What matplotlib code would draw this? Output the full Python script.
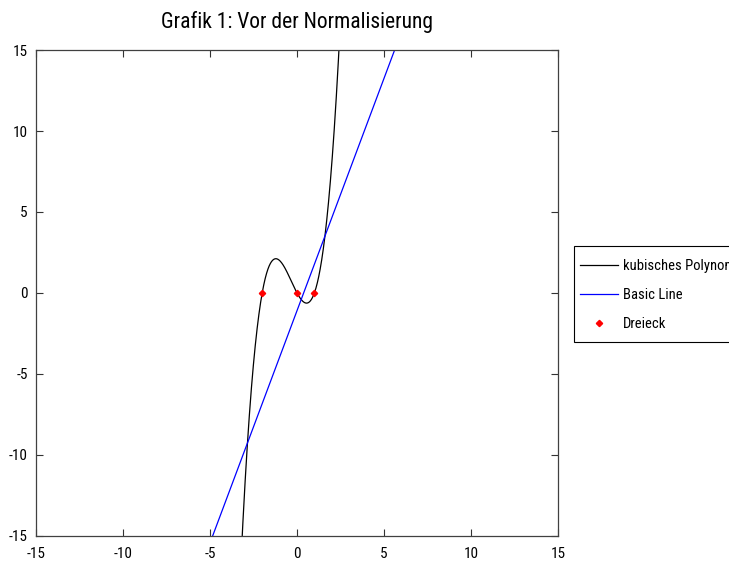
import numpy as np
import matplotlib
matplotlib.use("Agg")
import matplotlib.pyplot as plt
from matplotlib.patches import Rectangle

plt.rcParams['font.family'] = ['Liberation Sans Narrow', 'Roboto Condensed', 'DejaVu Sans']
plt.rcParams['axes.unicode_minus'] = False

# Data
cubic_coeffs = [1, 1, -2, 0]          # x^3 + x^2 - 2x, roots at -2, 0, 1
line_coeffs = [2.87, -1.1]            # basic line
root_x = [-2, 0, 1]
root_y = [0, 0, 0]
ticks = [-15, -10, -5, 0, 5, 10, 15]

W, H = 729, 566
fig = plt.figure(figsize=(W / 100, H / 100), dpi=100)
ax = fig.add_axes([0.0494, 0.0535, 0.716, 0.858])

x = np.linspace(-15, 15, 3001)
ax.plot(x, np.polyval(cubic_coeffs, x), color='black', lw=0.9, label='kubisches Polynom')
ax.plot(x, np.polyval(line_coeffs, x), color='blue', lw=0.9, label='Basic Line')
ax.plot(root_x, root_y, linestyle='none', marker='D', markersize=3.2, color='red', label='Dreieck')

ax.set_xlim(-15, 15)
ax.set_ylim(-15, 15)
ax.set_xticks(ticks)
ax.set_yticks(ticks)
ax.tick_params(direction='in', top=True, right=True, length=5, width=0.8, labelsize=11,
               colors='#333333', labelcolor='black', pad=6)
ax.tick_params(axis='x', pad=8)
for s in ax.spines.values():
    s.set_color('#404040')
    s.set_linewidth(0.9)
ax.set_title('Grafik 1: Vor der Normalisierung', fontsize=15.5, pad=16)

# legend box (extends past the right edge of the figure as in the reference)
fig.add_artist(Rectangle((574 / W, 1 - 342 / H), 200 / W, 96 / H, transform=fig.transFigure,
                         facecolor='white', edgecolor='black', lw=0.8, zorder=1))
leg = fig.legend(loc='upper left', bbox_to_anchor=(574 / W, 1 - 253 / H), fontsize=10.5,
                 frameon=False, borderaxespad=0, borderpad=0.4,
                 handlelength=2.6, handletextpad=0.35, labelspacing=1.05)
leg.set_zorder(5)

fig.savefig('out.png', dpi=100)
